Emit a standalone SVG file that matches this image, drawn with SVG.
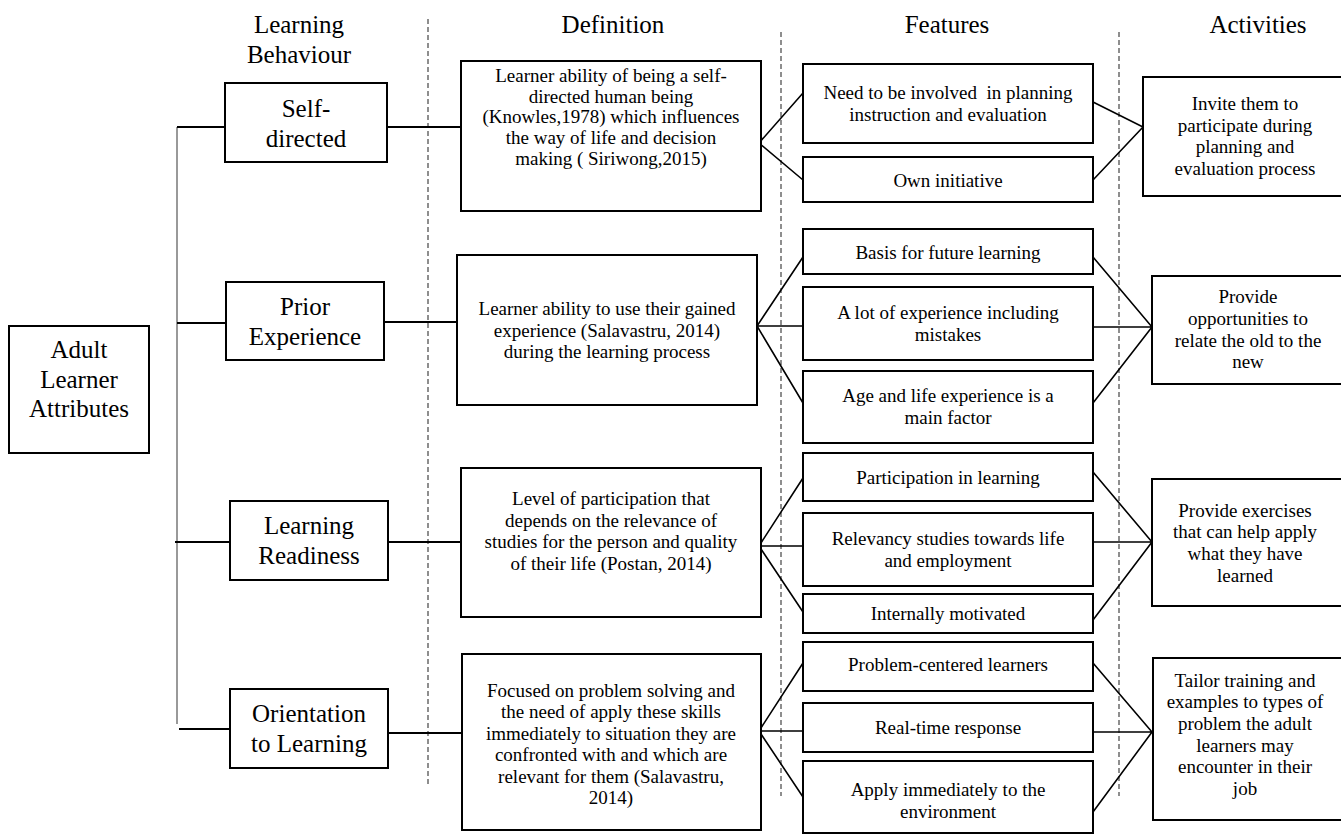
<svg xmlns="http://www.w3.org/2000/svg" width="1341" height="835" viewBox="0 0 1341 835" font-family="'Liberation Serif', 'DejaVu Serif', serif">
<style>
text{font-family:'Liberation Serif','DejaVu Serif',serif;fill:#000;text-anchor:middle}
.h{font-size:25px}
.n{font-size:25px}
.t{font-size:19px}
.box{fill:#fff;stroke:#000;stroke-width:2}
.ln{stroke:#000;stroke-width:1.6;fill:none}
.hl{stroke:#000;stroke-width:2;fill:none}
.dash{stroke:#444;stroke-width:1.2;stroke-dasharray:5,3;fill:none}
</style>
<rect width="1341" height="835" fill="#fff"/>
<g id="headers">
<text class="h" x="299" y="33">Learning</text>
<text class="h" x="299" y="63">Behaviour</text>
<text class="h" x="613" y="33">Definition</text>
<text class="h" x="947" y="33">Features</text>
<text class="h" x="1258" y="33">Activities</text>
</g>
<g id="dividers">
<line class="dash" x1="428" y1="19" x2="428" y2="785"/>
<line class="dash" x1="781" y1="32" x2="781" y2="796"/>
<line class="dash" x1="1119" y1="32" x2="1119" y2="796"/>
</g>
<g id="connectors">
<line x1="177" y1="127" x2="177" y2="724" stroke="#555" stroke-width="1.2"/>
<line class="hl" x1="177" y1="127" x2="225" y2="127"/>
<line class="hl" x1="177" y1="323" x2="226" y2="323"/>
<line class="hl" x1="175" y1="542" x2="230" y2="542"/>
<line class="hl" x1="179" y1="729" x2="230" y2="729"/>
<line class="hl" x1="387" y1="127" x2="461" y2="127"/>
<line class="hl" x1="384" y1="322" x2="457" y2="322"/>
<line class="hl" x1="388" y1="542" x2="461" y2="542"/>
<line class="hl" x1="388" y1="733" x2="462" y2="733"/>
<path class="ln" d="M803 93 L759 143 L803 180"/>
<path class="ln" d="M803 257 L757 326 L803 403 M757 326 L803 326"/>
<path class="ln" d="M803 478 L759 546 L803 612 M759 546 L803 546"/>
<path class="ln" d="M803 663 L759 731 L803 797 M759 731 L803 731"/>
<path class="ln" d="M1093 102 L1143 127 L1093 180"/>
<path class="ln" d="M1093 257 L1152 327 L1093 403 M1093 327 L1152 327"/>
<path class="ln" d="M1093 472 L1152 542 L1093 620 M1093 542 L1152 542"/>
<path class="ln" d="M1093 663 L1152 732 L1093 812 M1093 732 L1152 732"/>
</g>
<g id="root">
<rect class="box" x="9" y="326" width="140" height="127"/>
<text class="n" x="79" y="358">Adult</text>
<text class="n" x="79" y="388">Learner</text>
<text class="n" x="79" y="417">Attributes</text>
</g>
<g id="b-self">
<rect class="box" x="225" y="83" width="162" height="79"/>
<text class="n" x="306" y="117">Self-</text>
<text class="n" x="306" y="147">directed</text>
</g>
<g id="b-prior">
<rect class="box" x="226" y="282" width="158" height="78"/>
<text class="n" x="305" y="315">Prior</text>
<text class="n" x="305" y="345">Experience</text>
</g>
<g id="b-ready">
<rect class="box" x="230" y="501" width="158" height="79"/>
<text class="n" x="309" y="534">Learning</text>
<text class="n" x="309" y="564">Readiness</text>
</g>
<g id="b-orient">
<rect class="box" x="230" y="689" width="158" height="79"/>
<text class="n" x="309" y="722">Orientation</text>
<text class="n" x="309" y="752">to Learning</text>
</g>
<g id="d-self">
<rect class="box" x="461" y="61" width="300" height="150"/>
<text class="t" x="611" y="82">Learner ability of being a self-</text>
<text class="t" x="611" y="103">directed human being</text>
<text class="t" x="611" y="123">(Knowles,1978) which influences</text>
<text class="t" x="611" y="144">the way of life and decision</text>
<text class="t" x="611" y="165">making ( Siriwong,2015)</text>
</g>
<g id="d-prior">
<rect class="box" x="457" y="255" width="300" height="150"/>
<text class="t" x="607" y="315">Learner ability to use their gained</text>
<text class="t" x="607" y="337">experience (Salavastru, 2014)</text>
<text class="t" x="607" y="358">during the learning process</text>
</g>
<g id="d-ready">
<rect class="box" x="461" y="468" width="300" height="149"/>
<text class="t" x="611" y="505">Level of participation that</text>
<text class="t" x="611" y="527">depends on the relevance of</text>
<text class="t" x="611" y="548">studies for the person and quality</text>
<text class="t" x="611" y="570">of their life (Postan, 2014)</text>
</g>
<g id="d-orient">
<rect class="box" x="462" y="654" width="299" height="176"/>
<text class="t" x="611" y="697">Focused on problem solving and</text>
<text class="t" x="611" y="718">the need of apply these skills</text>
<text class="t" x="611" y="740">immediately to situation they are</text>
<text class="t" x="611" y="761">confronted with and which are</text>
<text class="t" x="611" y="783">relevant for them (Salavastru,</text>
<text class="t" x="611" y="804">2014)</text>
</g>
<g id="f1"><rect class="box" x="803" y="64" width="290" height="79"/>
<text class="t" x="948" y="99" xml:space="preserve">Need to be involved  in planning</text>
<text class="t" x="948" y="121">instruction and evaluation</text></g>
<g id="f2"><rect class="box" x="803" y="157" width="290" height="45"/>
<text class="t" x="948" y="187">Own initiative</text></g>
<g id="f3"><rect class="box" x="803" y="229" width="290" height="45"/>
<text class="t" x="948" y="259">Basis for future learning</text></g>
<g id="f4"><rect class="box" x="803" y="287" width="290" height="73"/>
<text class="t" x="948" y="319">A lot of experience including</text>
<text class="t" x="948" y="341">mistakes</text></g>
<g id="f5"><rect class="box" x="803" y="371" width="290" height="72"/>
<text class="t" x="948" y="402">Age and life experience is a</text>
<text class="t" x="948" y="424">main factor</text></g>
<g id="f6"><rect class="box" x="803" y="453" width="290" height="48"/>
<text class="t" x="948" y="484">Participation in learning</text></g>
<g id="f7"><rect class="box" x="803" y="513" width="290" height="73"/>
<text class="t" x="948" y="545">Relevancy studies towards life</text>
<text class="t" x="948" y="567">and employment</text></g>
<g id="f8"><rect class="box" x="803" y="594" width="290" height="39"/>
<text class="t" x="948" y="620">Internally motivated</text></g>
<g id="f9"><rect class="box" x="803" y="642" width="290" height="49"/>
<text class="t" x="948" y="671">Problem-centered learners</text></g>
<g id="f10"><rect class="box" x="803" y="703" width="290" height="49"/>
<text class="t" x="948" y="734">Real-time response</text></g>
<g id="f11"><rect class="box" x="803" y="761" width="290" height="72"/>
<text class="t" x="948" y="796">Apply immediately to the</text>
<text class="t" x="948" y="818">environment</text></g>
<g id="a1"><rect class="box" x="1143" y="77" width="205" height="119"/>
<text class="t" x="1245" y="110">Invite them to</text>
<text class="t" x="1245" y="132">participate during</text>
<text class="t" x="1245" y="153">planning and</text>
<text class="t" x="1245" y="175">evaluation process</text></g>
<g id="a2"><rect class="box" x="1152" y="276" width="196" height="108"/>
<text class="t" x="1248" y="303">Provide</text>
<text class="t" x="1248" y="325">opportunities to</text>
<text class="t" x="1248" y="347">relate the old to the</text>
<text class="t" x="1248" y="368">new</text></g>
<g id="a3"><rect class="box" x="1152" y="479" width="196" height="127"/>
<text class="t" x="1245" y="517">Provide exercises</text>
<text class="t" x="1245" y="538">that can help apply</text>
<text class="t" x="1245" y="560">what they have</text>
<text class="t" x="1245" y="582">learned</text></g>
<g id="a4"><rect class="box" x="1153" y="658" width="195" height="162"/>
<text class="t" x="1245" y="687">Tailor training and</text>
<text class="t" x="1245" y="708">examples to types of</text>
<text class="t" x="1245" y="730">problem the adult</text>
<text class="t" x="1245" y="752">learners may</text>
<text class="t" x="1245" y="773">encounter in their</text>
<text class="t" x="1245" y="795">job</text></g>
</svg>
